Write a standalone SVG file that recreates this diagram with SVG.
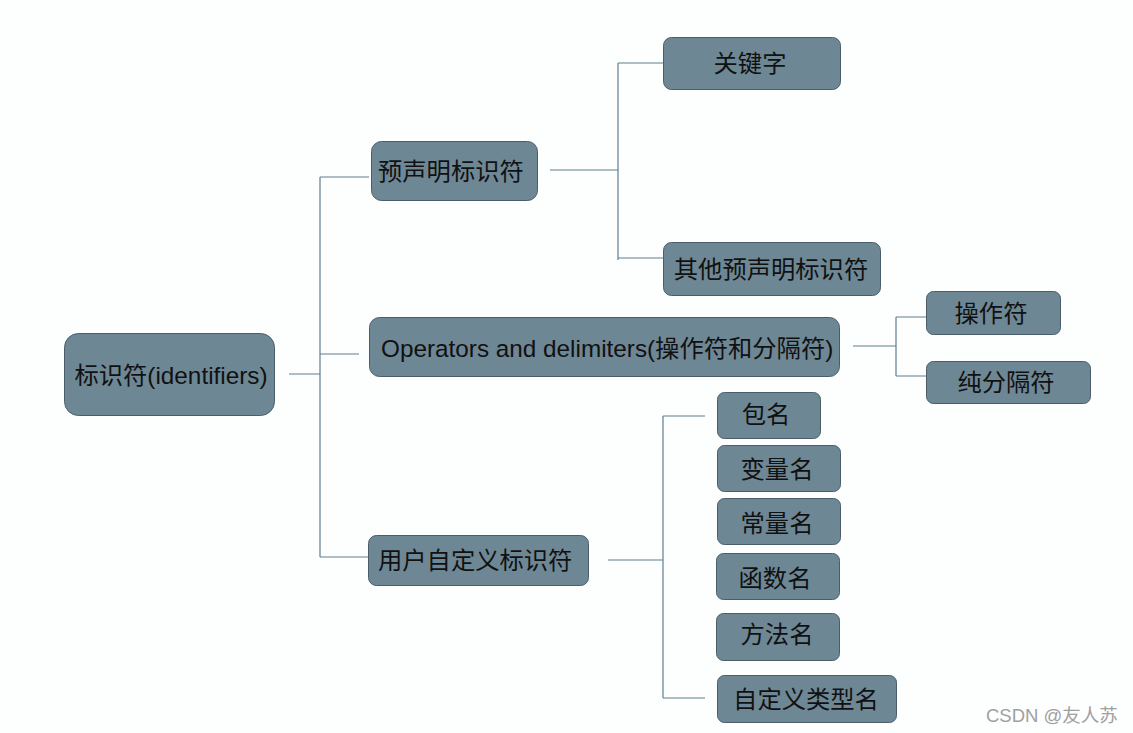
<svg xmlns="http://www.w3.org/2000/svg" width="1133" height="733" viewBox="0 0 1133 733">
<style>
.n{fill:#6e8795;stroke:#4b5d68;stroke-width:1}
.t{font-family:"Liberation Sans","Noto Sans CJK SC",sans-serif;font-size:24.3px;fill:#111;dominant-baseline:central}
.c{fill:none;stroke:#5f7e90;stroke-width:1.2}
.w{font-family:"Liberation Sans","Noto Sans CJK SC",sans-serif;font-size:18.5px;fill:#a0a0a0}
</style>
<rect width="1133" height="733" fill="#fdfefe"/>
<g id="connectors">
<path class="c" d="M289,374H320M320,177V557M320,177H369M320,354H359M320,557H368"/>
<path class="c" d="M550,170H618M618,63V260M618,63H663M618,258H663"/>
<path class="c" d="M853,346H896M896,317V376M896,317H926M896,376H926"/>
<path class="c" d="M608,560H663M663,416V698M663,416H705M663,698H705"/>
</g>
<g id="root"><rect class="n" x="64.5" y="333.5" width="210" height="82" rx="14"/><text class="t" x="171" y="375" text-anchor="middle">标识符(identifiers)</text></g>
<g id="predeclared"><rect class="n" x="371.5" y="141.5" width="166" height="59" rx="10"/><text class="t" x="378" y="171">预声明标识符</text></g>
<g id="operators"><rect class="n" x="369.5" y="317.5" width="470" height="59" rx="10"/><text class="t" x="381" y="348">Operators and delimiters(操作符和分隔符)</text></g>
<g id="userdefined"><rect class="n" x="368.5" y="535.5" width="220" height="50" rx="8"/><text class="t" x="378" y="560">用户自定义标识符</text></g>
<g id="keywords"><rect class="n" x="663.5" y="37.5" width="177" height="52" rx="8"/><text class="t" x="750" y="63" text-anchor="middle">关键字</text></g>
<g id="otherpre"><rect class="n" x="663.5" y="242.5" width="217" height="53" rx="8"/><text class="t" x="771" y="269" text-anchor="middle">其他预声明标识符</text></g>
<g id="opsym"><rect class="n" x="926.5" y="291.5" width="134" height="43" rx="7"/><text class="t" x="991" y="313" text-anchor="middle">操作符</text></g>
<g id="delim"><rect class="n" x="926.5" y="361.5" width="164" height="42" rx="7"/><text class="t" x="1006" y="382" text-anchor="middle">纯分隔符</text></g>
<g id="pkg"><rect class="n" x="717.5" y="392.5" width="103" height="46" rx="7"/><text class="t" x="766" y="414" text-anchor="middle">包名</text></g>
<g id="var"><rect class="n" x="717.5" y="445.5" width="123" height="46" rx="7"/><text class="t" x="777" y="469" text-anchor="middle">变量名</text></g>
<g id="const"><rect class="n" x="717.5" y="498.5" width="123" height="46" rx="7"/><text class="t" x="777" y="523" text-anchor="middle">常量名</text></g>
<g id="func"><rect class="n" x="716.5" y="553.5" width="123" height="46" rx="7"/><text class="t" x="775" y="578" text-anchor="middle">函数名</text></g>
<g id="method"><rect class="n" x="716.5" y="613.5" width="123" height="47" rx="7"/><text class="t" x="777" y="634" text-anchor="middle">方法名</text></g>
<g id="typename"><rect class="n" x="717.5" y="675.5" width="179" height="47" rx="7"/><text class="t" x="806" y="699" text-anchor="middle">自定义类型名</text></g>
<text class="w" x="986" y="722">CSDN @友人苏</text>
</svg>
